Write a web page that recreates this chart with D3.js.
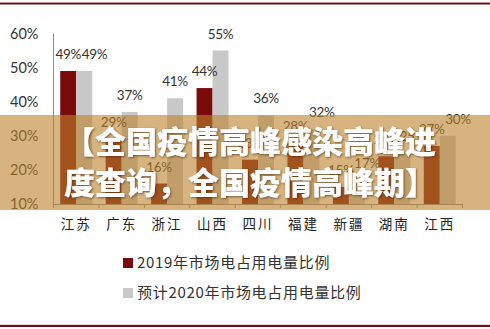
<!DOCTYPE html>
<html><head><meta charset="utf-8">
<script src="https://cdn.jsdelivr.net/npm/d3@7/dist/d3.min.js"></script>
<style>
html,body{margin:0;padding:0;background:#fff;}
svg{display:block;}
</style></head>
<body>
<svg id="c" width="490" height="329"></svg>
<script>
const categories = ["江苏","广东","浙江","山西","四川","福建","新疆","湖南","江西"];
const series2019 = [49, 29, 16, 44, 23, 28, 15, 24, 27];
const series2020 = [49, 37, 41, 55, 36, 32, 17, 25, 30];
const seriesNames = ["2019年市场电占用电量比例", "预计2020年市场电占用电量比例"];
const yTicks = [10, 20, 30, 40, 50, 60];
const bannerLines = ["【全国疫情高峰感染高峰进", "度查询，全国疫情高峰期】"];

const colors = ["#7a0b0b", "#c8c8c8"];
const svg = d3.select("#c");
const numFont = "Lato, 'Open Sans', sans-serif";
const cjkFont = "'Noto Sans CJK SC', sans-serif";

// borders
svg.append("rect").attr("x",0).attr("y",2.5).attr("width",490).attr("height",2).attr("fill","#5e0d16");
svg.append("rect").attr("x",0).attr("y",2).attr("width",490).attr("height",0.6).attr("fill","#d9a0a6");
svg.append("rect").attr("x",0).attr("y",325).attr("width",490).attr("height",2).attr("fill","#5e0d16");
svg.append("rect").attr("x",0).attr("y",324.5).attr("width",490).attr("height",0.6).attr("fill","#d9a0a6");

const x0 = d3.scaleBand().domain(categories).range([53.5, 462.5]).padding(0);
const x1 = d3.scaleBand().domain([0,1]).range([0, x0.bandwidth()]).paddingInner(0).paddingOuter(0.42);
const y = d3.scaleLinear().domain([10, 60]).range([204, 33.5]);

// y axis
const yAxis = svg.append("g").attr("transform","translate(53.5,0)")
  .call(d3.axisLeft(y).tickValues(yTicks).tickFormat(d => d + "%").tickSize(0).tickPadding(15));
yAxis.select(".domain").attr("stroke","#8c8c8c").attr("d","M0," + y(60) + "V" + y(10));
yAxis.selectAll("text").attr("font-family", numFont).attr("font-size", 14.5).attr("fill","#333");

// x axis
const xAxis = svg.append("g").attr("transform","translate(0,204)")
  .call(d3.axisBottom(x0).tickSize(0).tickPadding(15));
xAxis.select(".domain").attr("stroke","#8c8c8c");
xAxis.selectAll("text").attr("font-family", cjkFont).attr("font-size", 13.5).attr("fill","#222").attr("letter-spacing","2px");
const bounds = categories.map(c => x0(c)).concat([x0.range()[1]]);
xAxis.selectAll(".bt").data(bounds).enter().append("line").attr("class","bt")
  .attr("x1", d => d).attr("x2", d => d).attr("y1", 0).attr("y2", 4).attr("stroke","#8c8c8c");

// bars
const data = categories.map((c,i) => ({c, v:[series2019[i], series2020[i]]}));
const groups = svg.append("g").selectAll("g").data(data).enter().append("g")
  .attr("transform", d => "translate(" + x0(d.c) + ",0)");
groups.selectAll("rect").data(d => d.v.map((v,k) => ({v,k}))).enter().append("rect")
  .attr("x", d => x1(d.k)).attr("width", x1.bandwidth())
  .attr("y", d => y(d.v)).attr("height", d => y(10) - y(d.v))
  .attr("fill", d => colors[d.k]);
groups.each(function(d){
  const g = d3.select(this);
  const labels = d.v.map((v,k) => g.append("text")
    .attr("x", x1(k) + x1.bandwidth()/2).attr("y", y(v) - 12)
    .attr("text-anchor","middle").attr("font-family", numFont).attr("font-size", 13.5).attr("fill","#333")
    .attr("letter-spacing","-0.3px").text(v + "%"));
  // keep labels of equal height side by side instead of overlapping
  if (Math.abs(y(d.v[0]) - y(d.v[1])) < 14) {
    const b0 = labels[0].node().getBBox(), b1 = labels[1].node().getBBox();
    if (b1.x < b0.x + b0.width) labels[1].attr("x", b0.x + b0.width + b1.width/2);
  }
});

// legend
const leg = svg.append("g");
seriesNames.forEach((n,i) => {
  const ly = 258 + i*30;
  leg.append("rect").attr("x",123).attr("y",ly).attr("width",10).attr("height",10).attr("fill",colors[i]);
  leg.append("text").attr("x",137).attr("y",ly+10).attr("font-family",cjkFont).attr("font-size",15)
    .attr("letter-spacing","0.7px").attr("fill","#333").text(n);
});

// banner overlay
const defs = svg.append("defs");
const f = defs.append("filter").attr("id","sh").attr("x","-10%").attr("y","-20%").attr("width","120%").attr("height","140%");
f.append("feDropShadow").attr("dx",1).attr("dy",1).attr("stdDeviation",1.2).attr("flood-color","#3a2000").attr("flood-opacity",0.6);
svg.append("rect").attr("x",0).attr("y",115).attr("width",490).attr("height",95)
  .attr("fill","rgb(188,130,42)").attr("fill-opacity",0.6);
bannerLines.forEach((t,i) => {
  svg.append("text").attr("x",64).attr("y",153 + i*41)
    .attr("font-family",cjkFont).attr("font-weight",900).attr("font-size",31)
    .attr("fill","#fff").attr("filter","url(#sh)").text(t);
});
</script>
</body></html>
